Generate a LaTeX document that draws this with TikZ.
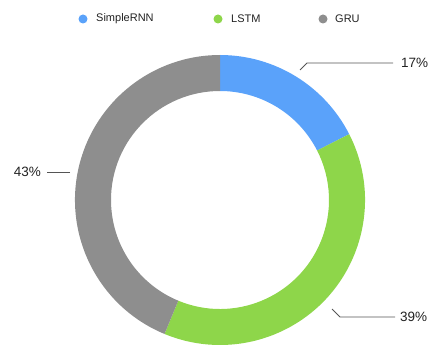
\documentclass[tikz,border=0pt]{standalone}
\usepackage{fontspec}
\setmainfont{Liberation Sans}
\definecolor{rnnblue}{HTML}{5AA2FA}
\definecolor{lstmgreen}{HTML}{8ED64A}
\definecolor{grugray}{HTML}{8E8E8E}
\definecolor{labeltext}{HTML}{222222}
\definecolor{leader}{HTML}{555555}
\tikzset{
  legenddot/.style={circle,inner sep=0pt,minimum size=9pt},
  legendtext/.style={anchor=west,inner sep=0pt,font=\fontsize{11}{13}\selectfont,text=labeltext},
  pcttext/.style={inner sep=0pt,font=\fontsize{13.5}{16}\selectfont,text=labeltext},
  leaderline/.style={draw=leader,line width=0.8pt},
}
% donut segment: #1 colour, #2 start angle, #3 end angle
\newcommand{\donutseg}[3]{%
  \fill[#1] ([shift={(#2:145)}]c) arc[start angle=#2,end angle=#3,radius=145]
    -- ([shift={(#3:109)}]c) arc[start angle=#3,end angle=#2,radius=109] -- cycle;}
\begin{document}
\begin{tikzpicture}[x=1pt,y=1pt]
\useasboundingbox (0,0) rectangle (428,348);
\coordinate (c) at (220,148);

% ring
\donutseg{rnnblue}{90}{27}
\donutseg{lstmgreen}{27}{-112.5}
\donutseg{grugray}{-112.5}{-270}

% legend
\node[legenddot,fill=rnnblue] (d1) at (83,329) {};
\node[legendtext] (t1) at (96,329) {SimpleRNN};
\node[legenddot,fill=lstmgreen] (d2) at (218,329) {};
\node[legendtext] (t2) at (231,329) {LSTM};
\node[legenddot,fill=grugray] (d3) at (323,329) {};
\node[legendtext] (t3) at (335,329) {GRU};

% percentage labels
\node[pcttext,anchor=west] (p17) at (401,285) {17\%};
\node[pcttext,anchor=west] (p39) at (400,31) {39\%};
\node[pcttext,anchor=east] (p43) at (41,176) {43\%};

% leader lines
\coordinate (a17) at (300,278);
\coordinate (b17) at (307,285);
\coordinate (e17) at (393,285);
\draw[leaderline] (a17) -- (b17) -- (e17);

\coordinate (a39) at (332,39);
\coordinate (b39) at (340,31);
\coordinate (e39) at (395,31);
\draw[leaderline] (a39) -- (b39) -- (e39);

\coordinate (a43) at (70,176);
\coordinate (e43) at (47,176);
\draw[leaderline] (a43) -- (e43);
\end{tikzpicture}
\end{document}
